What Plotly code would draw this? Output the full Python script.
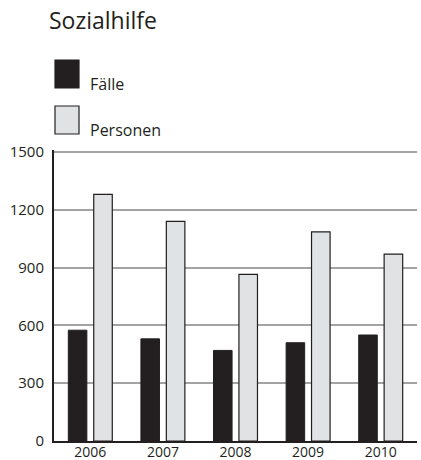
import plotly.graph_objects as go

years = ["2006", "2007", "2008", "2009", "2010"]
faelle = [575, 530, 470, 510, 550]
personen = [1280, 1140, 865, 1085, 970]
y_ticks = [0, 300, 600, 900, 1200, 1500]
series_names = ["Fälle", "Personen"]

DARK = "#231f20"
LIGHT = "#e1e2e3"
GRID = "#a3a3a3"
FONT = "Open Sans"

fig = go.Figure()
fig.add_trace(go.Bar(x=years, y=faelle, name=series_names[0],
                     marker=dict(color=DARK, line=dict(color=DARK, width=1))))
fig.add_trace(go.Bar(x=years, y=personen, name=series_names[1],
                     marker=dict(color=LIGHT, line=dict(color=DARK, width=1.2))))

fig.update_layout(
    width=421, height=460,
    margin=dict(l=54, r=4, t=150, b=19, autoexpand=False),
    paper_bgcolor="white", plot_bgcolor="white",
    barmode="group", bargap=0.3, bargroupgap=0.27,
    showlegend=False,
    font=dict(family=FONT, color=DARK, size=15),
    title=dict(text="Sozialhilfe", x=49 / 421, xanchor="left", xref="container",
               y=1 - 21 / 460, yanchor="middle", yref="container",
               font=dict(family=FONT, size=23, color=DARK)),
    xaxis=dict(showgrid=False, showline=True, linecolor=DARK, linewidth=2,
               ticks="", automargin=False, ticklabelstandoff=-3,
               tickfont=dict(size=14, color=DARK)),
    yaxis=dict(range=[0, 1510], tickvals=y_ticks, showgrid=True,
               gridcolor=GRID, gridwidth=2, showline=True, linecolor=DARK,
               linewidth=2, ticks="", ticklabelstandoff=5, zeroline=False,
               automargin=False, tickfont=dict(size=15, color=DARK)),
)

# custom legend (large swatches)
plot_w, plot_h, plot_b = 363, 291, 441
legend_rows = [(series_names[0], DARK, 60, 88), (series_names[1], LIGHT, 106, 134)]
for name, color, y0, y1 in legend_rows:
    fig.add_shape(type="rect", xref="paper", yref="paper",
                  x0=(55 - 54) / plot_w, x1=(79 - 54) / plot_w,
                  y0=(plot_b - y1) / plot_h, y1=(plot_b - y0) / plot_h,
                  fillcolor=color, line=dict(color=DARK, width=1.2))
    fig.add_annotation(text=name, xref="paper", yref="paper",
                       x=(88 - 54) / plot_w, y=(plot_b - (y1 - 4)) / plot_h,
                       xanchor="left", yanchor="middle", showarrow=False,
                       font=dict(family=FONT, size=16, color=DARK))

fig.write_html(
    "out.html",
    config={"displayModeBar": False},
    post_script="document.body.style.margin='0';document.body.style.overflow='hidden';",
)
